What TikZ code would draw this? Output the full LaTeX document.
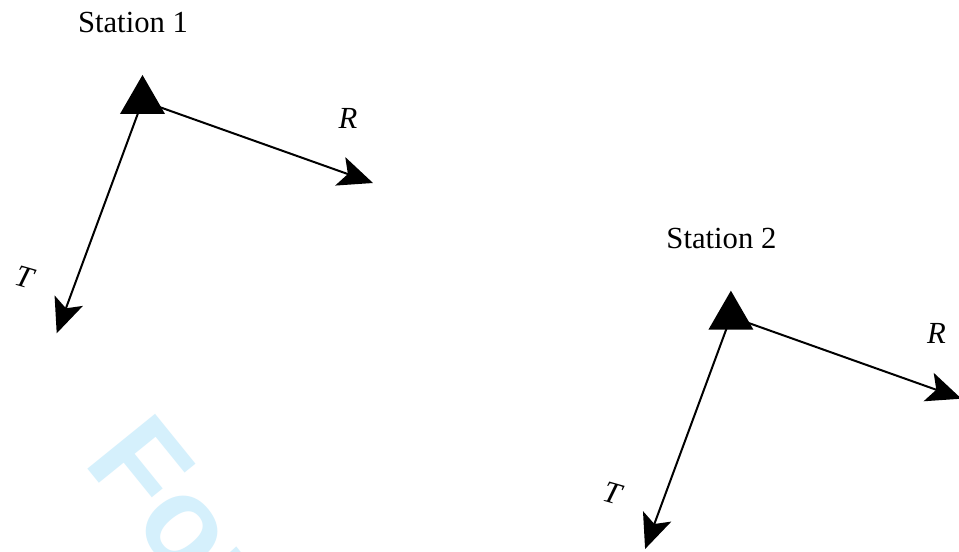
\documentclass[tikz,border=0pt]{standalone}
\usepackage{fontspec}
\setmainfont{Liberation Serif}
\newfontfamily\wmfont{Liberation Sans}
\usetikzlibrary{arrows.meta,shapes.geometric}
\definecolor{wmcyan}{RGB}{213,240,252}
\tikzset{
  marktri/.style={regular polygon, regular polygon sides=3, fill=black,
    draw=none, minimum size=39pt, inner sep=0pt, outer sep=0pt},
  axisline/.style={line width=1.5pt,
    -{Stealth[length=26pt,width=22.5pt,inset=6pt]}},
  stationname/.style={font=\fontsize{23}{26}\selectfont, anchor=base, inner sep=0pt},
  axislabel/.style={font=\fontsize{23}{26}\selectfont\itshape, inner sep=0pt},
  % one station: triangle marker with its R and T axes
  station/.pic={
    \node[marktri] (-tri) at (0,0) {};
    \coordinate (-rend) at (230.5,82);
    \coordinate (-tend) at (-85.8,232.3);
    \draw[axisline] (-tri.center) -- (-rend);
    \draw[axisline] (-tri.center) -- (-tend);
    \node[stationname] (-name) at (-9.5,-68) {Station #1};
    \node[axislabel] (-rlab) at (205.5,17) {R};
    \node[axislabel, rotate=-16] (-tlab) at (-118.5,176) {T};
  }
}
\begin{document}
\begin{tikzpicture}[x=0.75pt, y=-0.75pt]
  \useasboundingbox (0,0) rectangle (959,552);
  \clip (0,0) rectangle (959,552);
  \fill[white] (0,0) rectangle (959,552);
  % watermark
  \node[anchor=base west, inner sep=0pt, rotate=-51, text=wmcyan,
        font=\wmfont\bfseries\fontsize{95}{100}\selectfont] (wm) at (82.2,461.8) {For};
  \pic (s1) at (142.5,101) {station=1};
  \pic (s2) at (730.9,316.7) {station=2};
\end{tikzpicture}
\end{document}
